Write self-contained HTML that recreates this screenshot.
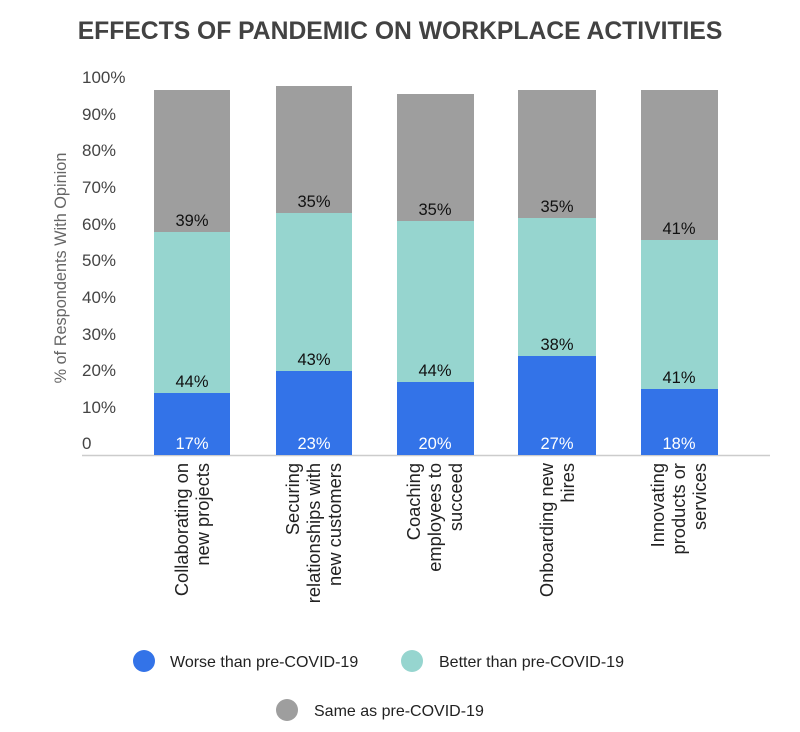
<!DOCTYPE html>
<html><head><style>body{margin:0;background:#fff}svg{display:block}text{font-family:"Liberation Sans",sans-serif}</style></head><body>
<svg width="800" height="732" xmlns="http://www.w3.org/2000/svg">
<text x="400" y="39" text-anchor="middle" font-size="24.7" font-weight="bold" fill="#424242">EFFECTS OF PANDEMIC ON WORKPLACE ACTIVITIES</text>
<g font-size="17" fill="#444">
<text x="82" y="449">0</text><text x="82" y="413">10%</text><text x="82" y="376">20%</text><text x="82" y="340">30%</text><text x="82" y="303">40%</text><text x="82" y="266">50%</text><text x="82" y="230">60%</text><text x="82" y="193">70%</text><text x="82" y="156">80%</text><text x="82" y="120">90%</text><text x="82" y="83">100%</text>
</g>
<text transform="translate(66,268) rotate(-90)" text-anchor="middle" font-size="16.3" fill="#666">% of Respondents With Opinion</text>
<line x1="82" y1="455.5" x2="770" y2="455.5" stroke="#ccc" stroke-width="1.5"/>
<g>
<rect x="154" y="90" width="76" height="142" fill="#9e9e9e"/><rect x="154" y="232" width="76" height="161" fill="#96d5cf"/><rect x="154" y="393" width="76" height="62" fill="#3373e8"/>
<rect x="276" y="86" width="76" height="127" fill="#9e9e9e"/><rect x="276" y="213" width="76" height="158" fill="#96d5cf"/><rect x="276" y="371" width="76" height="84" fill="#3373e8"/>
<rect x="397" y="94" width="77" height="127" fill="#9e9e9e"/><rect x="397" y="221" width="77" height="161" fill="#96d5cf"/><rect x="397" y="382" width="77" height="73" fill="#3373e8"/>
<rect x="518" y="90" width="78" height="128" fill="#9e9e9e"/><rect x="518" y="218" width="78" height="138" fill="#96d5cf"/><rect x="518" y="356" width="78" height="99" fill="#3373e8"/>
<rect x="641" y="90" width="77" height="150" fill="#9e9e9e"/><rect x="641" y="240" width="77" height="149" fill="#96d5cf"/><rect x="641" y="389" width="77" height="66" fill="#3373e8"/>
</g>
<g font-size="16.5" text-anchor="middle" fill="#111">
<text x="192" y="226">39%</text><text x="192" y="387">44%</text><text x="192" y="449" fill="#fff">17%</text>
<text x="314" y="207">35%</text><text x="314" y="365">43%</text><text x="314" y="449" fill="#fff">23%</text>
<text x="435" y="215">35%</text><text x="435" y="376">44%</text><text x="435" y="449" fill="#fff">20%</text>
<text x="557" y="212">35%</text><text x="557" y="350">38%</text><text x="557" y="449" fill="#fff">27%</text>
<text x="679" y="234">41%</text><text x="679" y="383">41%</text><text x="679" y="449" fill="#fff">18%</text>
</g>
<g font-size="18.3" fill="#222" text-anchor="end">
<text transform="translate(192,463) rotate(-90)"><tspan x="0" dy="-4">Collaborating on</tspan><tspan x="0" dy="21">new projects</tspan></text>
<text transform="translate(314,463) rotate(-90)"><tspan x="0" dy="-15">Securing</tspan><tspan x="0" dy="21">relationships with</tspan><tspan x="0" dy="21">new customers</tspan></text>
<text transform="translate(435,463) rotate(-90)"><tspan x="0" dy="-15">Coaching</tspan><tspan x="0" dy="21">employees to</tspan><tspan x="0" dy="21">succeed</tspan></text>
<text transform="translate(557,463) rotate(-90)"><tspan x="0" dy="-4">Onboarding new</tspan><tspan x="0" dy="21">hires</tspan></text>
<text transform="translate(679,463) rotate(-90)"><tspan x="0" dy="-15">Innovating</tspan><tspan x="0" dy="21">products or</tspan><tspan x="0" dy="21">services</tspan></text>
</g>
<g font-size="16" fill="#222">
<circle cx="144" cy="661" r="11" fill="#3373e8"/><text x="170" y="667">Worse than pre-COVID-19</text>
<circle cx="412" cy="661" r="11" fill="#96d5cf"/><text x="439" y="667">Better than pre-COVID-19</text>
<circle cx="287" cy="710" r="11" fill="#9e9e9e"/><text x="314" y="716">Same as pre-COVID-19</text>
</g>
</svg>
</body></html>
